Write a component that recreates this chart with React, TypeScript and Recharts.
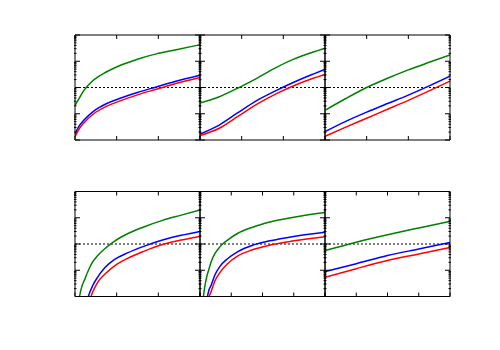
import React from "react";
import { LineChart, Line, XAxis, YAxis, ReferenceLine } from "recharts";

// x positions and series values per panel (y is on a log axis, 1e-2 .. 1e2)
const p1X = [0, 0.09, 0.21, 0.45, 0.75, 1.05, 1.5, 1.95, 2.4, 3];
const p1Green = [0.209, 0.363, 0.759, 1.95, 3.89, 6.61, 12.0, 19.1, 26.9, 42.7];
const p1Blue = [0.017, 0.0324, 0.0562, 0.126, 0.24, 0.372, 0.646, 1.05, 1.7, 2.95];
const p1Red = [0.0135, 0.0251, 0.0447, 0.1, 0.191, 0.295, 0.525, 0.851, 1.38, 2.4];

const p2X = [0, 0.45, 0.9, 1.35, 1.8, 2.25, 2.7, 3];
const p2Green = [0.257, 0.437, 0.933, 2.19, 5.5, 12.0, 21.9, 31.6];
const p2Blue = [0.017, 0.0363, 0.107, 0.309, 0.724, 1.58, 3.16, 4.9];
const p2Red = [0.0148, 0.0275, 0.0776, 0.224, 0.55, 1.17, 2.19, 3.16];

const p3X = [0, 0.5, 1, 1.5, 2, 2.5, 3];
const p3Green = [0.135, 0.38, 1.0, 2.24, 4.68, 9.12, 17.4];
const p3Blue = [0.0209, 0.0513, 0.115, 0.245, 0.513, 1.15, 2.69];
const p3Red = [0.0138, 0.0309, 0.0676, 0.148, 0.324, 0.741, 1.74];

const p4X = [0.06, 0.15, 0.24, 0.33, 0.42, 0.54, 0.72, 0.96, 1.26, 1.65, 2.1, 2.55, 3];
const p4Green = [0.00398, 0.02, 0.0479, 0.107, 0.204, 0.355, 0.676, 1.32, 2.45, 4.47, 7.94, 12.6, 20.0];
const p4Blue = [0.0001, 0.00063, 0.00316, 0.0112, 0.0251, 0.0537, 0.126, 0.263, 0.457, 0.813, 1.41, 2.14, 3.02];
const p4Red = [0.0000316, 0.00025, 0.001, 0.005, 0.0141, 0.0339, 0.0724, 0.151, 0.282, 0.525, 0.955, 1.41, 1.95];

const p5X = [0.04, 0.12, 0.2, 0.28, 0.36, 0.48, 0.64, 0.88, 1.2, 1.68, 2.24, 3, 4];
const p5Green = [0.001, 0.0126, 0.0468, 0.105, 0.214, 0.437, 0.794, 1.41, 2.51, 4.37, 6.92, 10.5, 15.8];
const p5Blue = [0.0001, 0.00063, 0.005, 0.0166, 0.0275, 0.0676, 0.141, 0.275, 0.501, 0.891, 1.32, 1.95, 2.82];
const p5Red = [0.0000316, 0.00025, 0.00158, 0.0083, 0.0158, 0.0398, 0.0832, 0.178, 0.347, 0.603, 0.912, 1.32, 1.91];

const p6X = [0, 1, 2, 3, 4];
const p6Green = [0.562, 1.17, 2.24, 4.07, 7.24];
const p6Blue = [0.0891, 0.178, 0.363, 0.646, 1.15];
const p6Red = [0.0537, 0.115, 0.234, 0.417, 0.741];

const ticks3 = [0, 1, 2, 3];
const ticks4 = [0, 1, 2, 3, 4];
const majorY = [0.01, 0.1, 1, 10, 100];
const minorY: number[] = [];
for (const d of [0.01, 0.1, 1, 10]) {
  for (let k = 2; k <= 9; k++) minorY.push(+(k * d).toPrecision(3));
}

const PAD = 6;
const W = 125;
const H = 105;
// ticks without labels (tick={false} would drop the tick lines too)
const NoLabel = () => <g />;

type PanelProps = {
  left: number;
  top: number;
  xs: number[];
  green: number[];
  blue: number[];
  red: number[];
  xTicks: number[];
};

const Panel = ({ left, top, xs, green, blue, red, xTicks }: PanelProps) => {
  const data = xs.map((x, i) => ({ x, green: green[i], blue: blue[i], red: red[i] }));
  const divTop = Math.floor(top) - PAD;
  const mTop = top - divTop;
  const chartH = H + 2 * PAD;
  const xMax = xTicks[xTicks.length - 1];
  const yProps = {
    type: "number" as const,
    scale: "log" as const,
    domain: [0.01, 100],
    allowDataOverflow: true,
    width: 1,
    tick: NoLabel,
    interval: 0 as const,
    stroke: "#000",
  };
  const xProps = {
    dataKey: "x",
    type: "number" as const,
    domain: [0, xMax],
    ticks: xTicks,
    height: 1,
    tick: NoLabel,
    tickSize: -4,
    interval: 0 as const,
    stroke: "#000",
    allowDataOverflow: true,
  };
  return (
    <div style={{ position: "absolute", left: left - PAD, top: divTop }}>
      <LineChart
        width={W + 2 * PAD}
        height={chartH}
        data={data}
        margin={{ top: mTop - 1, right: PAD - 2, bottom: chartH - mTop - H - 1, left: PAD - 2 }}
      >
        <XAxis xAxisId="b" {...xProps} />
        <XAxis xAxisId="t" orientation="top" {...xProps} />
        <YAxis yAxisId="l" {...yProps} ticks={majorY} tickSize={-5} />
        <YAxis yAxisId="lm" {...yProps} ticks={minorY} tickSize={-2.5} axisLine={false} />
        <YAxis yAxisId="r" orientation="right" {...yProps} ticks={majorY} tickSize={-5} />
        <YAxis yAxisId="rm" orientation="right" {...yProps} ticks={minorY} tickSize={-2.5} axisLine={false} />
        <ReferenceLine xAxisId="b" yAxisId="l" y={1} stroke="#000" strokeDasharray="2 2" />
        <Line xAxisId="b" yAxisId="l" dataKey="green" type="monotone" stroke="#008000" strokeWidth={1.5} dot={false} isAnimationActive={false} />
        <Line xAxisId="b" yAxisId="l" dataKey="blue" type="monotone" stroke="#0000ff" strokeWidth={1.5} dot={false} isAnimationActive={false} />
        <Line xAxisId="b" yAxisId="l" dataKey="red" type="monotone" stroke="#ff0000" strokeWidth={1.5} dot={false} isAnimationActive={false} />
      </LineChart>
    </div>
  );
};

export default function App() {
  return (
    <div style={{ position: "absolute", left: 0, top: 0, width: 500, height: 350, background: "#fff" }}>
      <Panel left={75} top={35} xs={p1X} green={p1Green} blue={p1Blue} red={p1Red} xTicks={ticks3} />
      <Panel left={200} top={35} xs={p2X} green={p2Green} blue={p2Blue} red={p2Red} xTicks={ticks3} />
      <Panel left={325} top={35} xs={p3X} green={p3Green} blue={p3Blue} red={p3Red} xTicks={ticks3} />
      <Panel left={75} top={191.5} xs={p4X} green={p4Green} blue={p4Blue} red={p4Red} xTicks={ticks3} />
      <Panel left={200} top={191.5} xs={p5X} green={p5Green} blue={p5Blue} red={p5Red} xTicks={ticks4} />
      <Panel left={325} top={191.5} xs={p6X} green={p6Green} blue={p6Blue} red={p6Red} xTicks={ticks4} />
    </div>
  );
}
